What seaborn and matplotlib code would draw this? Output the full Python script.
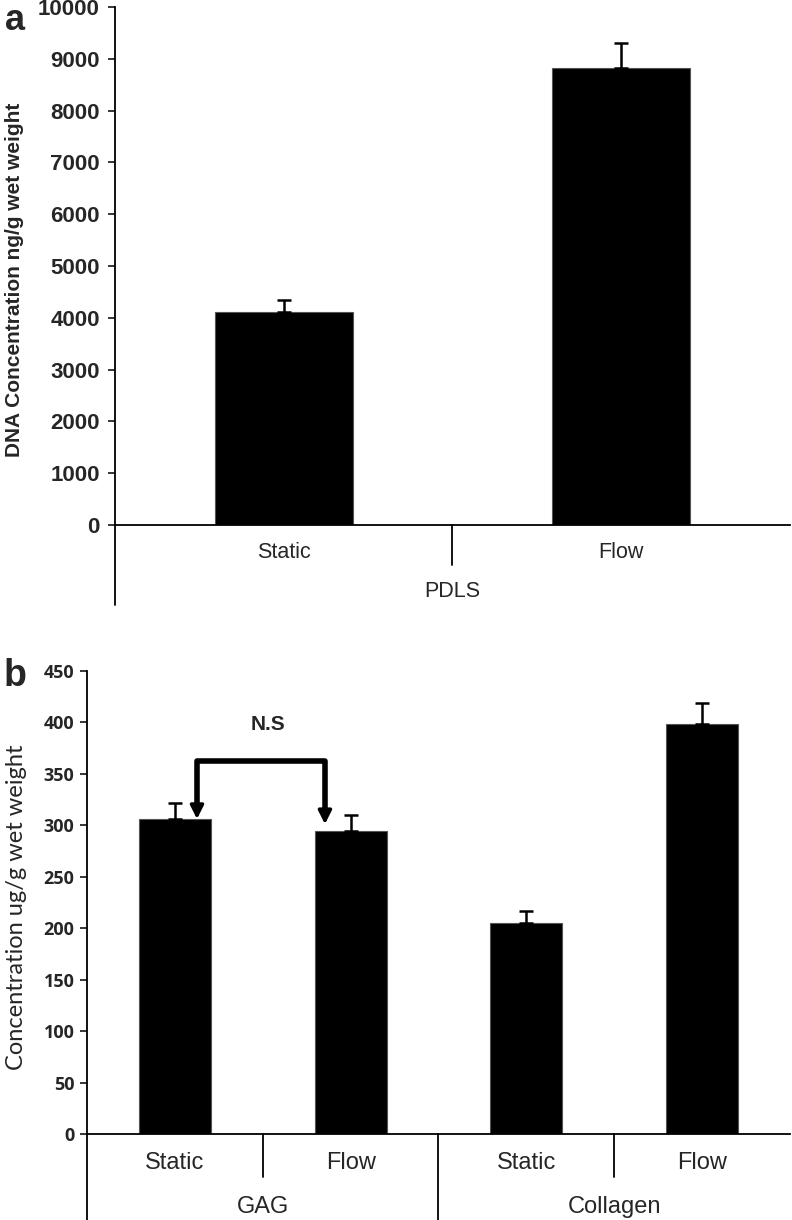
import numpy as np
import pandas as pd
import seaborn as sns
import matplotlib.pyplot as plt
import matplotlib.transforms as mtransforms

# panel a: DNA content
a_conditions = ['Static', 'Flow']
a_group = 'PDLS'
a_values = [4120, 8820]
a_errors = [220, 480]

# panel b: GAG / collagen
b_groups = ['GAG', 'GAG', 'Collagen', 'Collagen']
b_conditions = ['Static', 'Flow', 'Static', 'Flow']
b_values = [306, 294, 205, 398]
b_errors = [16, 16, 12, 21]

NS_BRACKET_Y = 362

sns.set_style('white')
plt.rcParams['font.family'] = ['Liberation Sans', 'DejaVu Sans']

fig = plt.figure(figsize=(7.92, 12.2), dpi=100)


def draw_bars(ax, keys, values, errors):
    df = pd.DataFrame({'key': keys, 'value': values})
    sns.barplot(data=df, x='key', y='value', color='black', width=0.41,
                errorbar=None, ax=ax, edgecolor='#555555', linewidth=0.8,
                saturation=1)
    xs = [p.get_x() + p.get_width() / 2 for p in ax.patches]
    ax.errorbar(xs, values, yerr=[np.zeros(len(values)), errors], fmt='none',
                ecolor='black', elinewidth=1.8, capsize=5, capthick=1.8)
    ax.set_xlim(-0.5, len(values) - 0.5)
    for s in ['top', 'right']:
        ax.spines[s].set_visible(False)
    for s in ['left', 'bottom']:
        ax.spines[s].set_linewidth(1.3)
        ax.spines[s].set_color('black')
    ax.set_xticks([])
    ax.set_xlabel('')
    ax.tick_params(axis='y', direction='out', length=5, width=1.3, left=True)
    return xs


# ---------- panel a ----------
ax1 = fig.add_axes([0.1452, 0.5697, 0.852, 0.4246])
draw_bars(ax1, a_conditions, a_values, a_errors)
ax1.set_ylim(0, 10000)
ax1.set_yticks(np.arange(0, 10001, 1000))
ax1.set_yticklabels([str(v) for v in range(0, 10001, 1000)],
                    fontsize=16, fontweight='bold')
ax1.tick_params(axis='y', pad=6)
ax1.set_ylabel('DNA Concentration ng/g wet weight', fontsize=15,
               fontweight='bold')
ax1.yaxis.set_label_coords(-0.135, 0.473)

tr1 = mtransforms.blended_transform_factory(ax1.transData, ax1.transAxes)
ax1.plot([-0.5, -0.5], [0, -0.154], transform=tr1, color='black', lw=1.3,
         clip_on=False)
ax1.plot([0.5, 0.5], [0, -0.077], transform=tr1, color='black', lw=1.3,
         clip_on=False)
for i, c in enumerate(a_conditions):
    ax1.text(i, -0.054, c, transform=tr1, ha='center', va='center',
             fontsize=15.5)
ax1.text(0.5, -0.129, a_group, transform=tr1, ha='center', va='center',
         fontsize=15.5)
fig.text(0.019, 0.983, 'a', fontsize=26, fontweight='bold',
         ha='center', va='center')

# ---------- panel b ----------
ax2 = fig.add_axes([0.1098, 0.0705, 0.8877, 0.3797])
keys = [g + ' ' + c for g, c in zip(b_groups, b_conditions)]
xs = draw_bars(ax2, keys, b_values, b_errors)
ax2.set_ylim(0, 450)
ax2.set_yticks(np.arange(0, 451, 50))
ax2.set_yticklabels([str(v) for v in range(0, 451, 50)], fontsize=13,
                    fontweight='bold', family=['Open Sans', 'DejaVu Sans'])
ax2.tick_params(axis='y', pad=4)
ax2.set_ylabel('Concentration ug/g wet weight', fontsize=17,
               family=['Lato', 'DejaVu Sans'])
ax2.yaxis.set_label_coords(-0.085, 0.49)

tr2 = mtransforms.blended_transform_factory(ax2.transData, ax2.transAxes)
for xb in [-0.5, 1.5]:
    ax2.plot([xb, xb], [0, -0.186], transform=tr2, color='black', lw=1.3,
             clip_on=False)
for xb in [0.5, 2.5]:
    ax2.plot([xb, xb], [0, -0.093], transform=tr2, color='black', lw=1.3,
             clip_on=False)
for i, c in enumerate(b_conditions):
    ax2.text(i, -0.0626, c, transform=tr2, ha='center', va='center',
             fontsize=17)
for j, g in enumerate(['GAG', 'Collagen']):
    ax2.text(2 * j + 0.5, -0.158, g, transform=tr2, ha='center',
             va='center', fontsize=17)

# N.S bracket between GAG static and flow
xl = xs[0] + 0.126
xr = xs[1] - 0.146
ax2.plot([xl, xl, xr, xr],
         [b_values[0] + 14, NS_BRACKET_Y, NS_BRACKET_Y, b_values[0] + 9],
         color='black', lw=4, solid_joinstyle='round',
         solid_capstyle='butt')
for xa, ytip in [(xl, b_values[0]), (xr, b_values[0] - 5)]:
    ax2.annotate('', xy=(xa, ytip), xytext=(xa, ytip + 16),
                 arrowprops=dict(arrowstyle='-|>,head_width=0.4,head_length=0.8',
                                 color='black', lw=2.5, shrinkA=0, shrinkB=0))
ax2.text((xl + xr) / 2 + 0.04, 398, 'N.S', ha='center', va='center',
         fontsize=15, fontweight='bold')
fig.text(0.019, 0.446, 'b', fontsize=27, fontweight='bold',
         ha='center', va='center')

plt.savefig('out.png', dpi=100)
